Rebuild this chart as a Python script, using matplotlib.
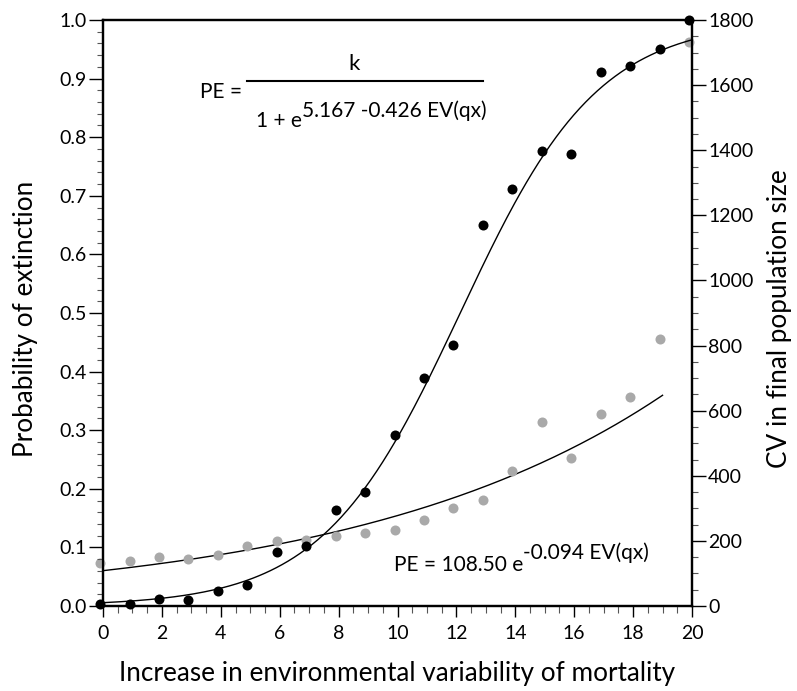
import numpy as np
import matplotlib
matplotlib.use("Agg")
import matplotlib.pyplot as plt
from matplotlib.ticker import MultipleLocator, FormatStrFormatter

plt.rcParams['font.family'] = ['Lato', 'DejaVu Sans']

# Data
ev = [-0.1, 0.9, 1.9, 2.9, 3.9, 4.9, 5.9, 6.9, 7.9, 8.9, 9.9,
      10.9, 11.9, 12.9, 13.9, 14.9, 15.9, 16.9, 17.9, 18.9, 19.9]
prob_ext = [0.003, 0.003, 0.0125, 0.010, 0.026, 0.035, 0.093, 0.102, 0.163, 0.194, 0.292,
            0.389, 0.445, 0.650, 0.711, 0.777, 0.771, 0.911, 0.921, 0.951, 1.0]
cv_pop = [133, 139, 151, 144, 157, 183, 199, 203, 214, 223, 234,
          264, 301, 327, 415, 566, 454, 589, 643, 821, 1733]

# Fitted curve parameters (from the equations shown on the chart)
logit_k, logit_a, logit_b = 1.0, 5.167, 0.426
exp_a, exp_b = 108.50, 0.094

fig = plt.figure(figsize=(7.97, 6.91), dpi=100)
ax = fig.add_axes([103/797, 1-606/691, (692-103)/797, (606-20)/691])
ax2 = ax.twinx()

xs = np.linspace(0, 20, 300)
ax.plot(xs, logit_k / (1 + np.exp(logit_a - logit_b * xs)), color='black', lw=1.0, zorder=3)
ax.scatter(ev, prob_ext, s=52, color='black', clip_on=False, zorder=5, linewidths=0)

xe = np.linspace(0, 19, 300)
ax2.plot(xe, exp_a * np.exp(exp_b * xe), color='black', lw=1.0, zorder=3)
ax2.scatter(ev, cv_pop, s=52, color='#a9a9a9', clip_on=False, zorder=4, linewidths=0)

ax.set_zorder(ax2.get_zorder() + 1)
ax.patch.set_visible(False)

ax.set_xlim(0, 20)
ax.set_ylim(0, 1.0)
ax2.set_ylim(0, 1800)

ax.xaxis.set_major_locator(MultipleLocator(2))
ax.xaxis.set_minor_locator(MultipleLocator(0.5))
ax.yaxis.set_major_locator(MultipleLocator(0.1))
ax.yaxis.set_minor_locator(MultipleLocator(0.02))
ax.yaxis.set_major_formatter(FormatStrFormatter('%.1f'))
ax2.yaxis.set_major_locator(MultipleLocator(200))
ax2.yaxis.set_minor_locator(MultipleLocator(50))

for a in (ax, ax2):
    for s in a.spines.values():
        s.set_linewidth(1.6)
    a.tick_params(which='major', direction='out', length=10, width=1.0, labelsize=14, pad=1.5)
    a.tick_params(which='minor', direction='out', length=4.5, width=0.8, color='#555555')
ax.tick_params(axis='x', which='major', length=8, pad=6)
ax.tick_params(axis='x', which='minor', length=5)
ax.tick_params(top=False, which='both')

ax.set_xlabel('Increase in environmental variability of mortality', fontsize=18.8)
ax.xaxis.label.set_va('center')
ax.xaxis.set_label_coords(0.5, (606 - 673) / 586)
ax.set_ylabel('Probability of extinction', fontsize=18.8)
ax.yaxis.label.set_va('center')
ax.yaxis.set_label_coords((25 - 103) / 589, 0.49)
ax2.set_ylabel('CV in final population size', fontsize=18.8)
ax2.yaxis.label.set_va('center')
ax2.yaxis.set_label_coords((780 - 103) / 589, 0.49)

# Equations (annotations)
def px(x, y):
    return (x / 797, 1 - y / 691)

fs = 15
fig.text(*px(221, 92), 'PE =', fontsize=fs, ha='center', va='center')
fig.add_artist(plt.Line2D([247/797, 483/797], [1-81/691, 1-81/691], color='black', lw=1.5))
fig.text(*px(354, 64), 'k', fontsize=fs + 1, ha='center', va='center')
fig.text(*px(302, 121), '1 + e', fontsize=fs, ha='right', va='center')
fig.text(*px(302, 111), '5.167 -0.426 EV(qx)', fontsize=fs, ha='left', va='center')

fig.text(*px(523, 565), 'PE = 108.50 e', fontsize=fs, ha='right', va='center')
fig.text(*px(523, 553), '-0.094 EV(qx)', fontsize=fs, ha='left', va='center')

fig.savefig('out.png', dpi=100)
